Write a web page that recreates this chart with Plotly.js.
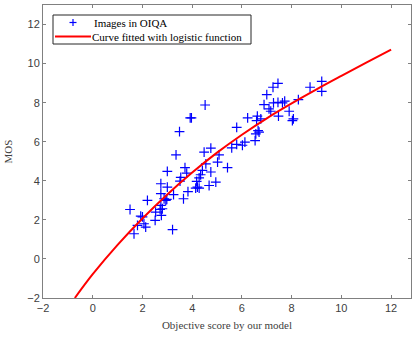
<!DOCTYPE html>
<html>
<head>
<meta charset="utf-8">
<script src="https://cdn.plot.ly/plotly-3.0.1.min.js"></script>
<style>html,body{margin:0;padding:0;background:#fff;}#chart{width:412px;height:341px;}</style>
</head>
<body>
<div id="chart"></div>
<script>
// Scatter points: objective score (x) vs MOS (y)
const scoreX = [4.52,3.92,3.97,3.49,6.23,5.79,3.35,4.48,4.75,5.08,5.59,5.79,6.02,6.12,5.02,5.42,4.55,4.41,4.34,4.28,4.75,3.71,3.78,3.00,3.54,3.51,4.18,4.21,4.14,4.28,4.95,4.68,3.83,3.65,2.74,3.00,2.74,3.25,2.87,2.98,2.94,2.20,2.74,2.80,2.71,2.53,2.76,1.50,1.93,2.00,2.51,1.80,2.06,2.13,1.66,3.21,9.21,9.21,8.74,7.45,7.25,7.00,6.89,7.27,7.45,7.63,7.72,7.09,7.16,8.27,7.90,8.07,8.03,7.47,6.62,6.59,6.76,6.65,6.56,6.69,6.53];
const mosY   = [7.88,7.22,7.22,6.52,7.22,6.74,5.33,5.47,5.67,5.33,5.69,5.86,5.82,5.98,4.96,4.67,4.87,4.53,4.31,4.15,4.45,4.67,4.39,4.48,4.18,3.98,3.97,3.68,3.63,3.63,3.93,3.76,3.45,3.08,3.85,3.68,3.34,3.29,3.08,3.05,3.00,3.00,2.74,2.57,2.53,2.40,2.23,2.53,2.19,2.15,1.97,1.72,1.80,1.63,1.29,1.50,9.09,8.58,8.79,8.99,8.79,8.41,7.90,7.99,8.02,7.99,8.08,7.68,7.56,8.16,7.56,7.17,7.08,7.31,7.31,7.08,7.17,6.57,6.40,6.49,6.06];
// Fitted curve
const curveX = [-0.72,0,1,2,3,4,5,6,7,8,9,10,11,12];
const curveY = [-2,-0.78,0.72,2.07,3.3,4.42,5.44,6.36,7.2,7.96,8.68,9.37,10.05,10.72];
const xTicks = [-2,0,2,4,6,8,10,12];
const yTicks = [-2,0,2,4,6,8,10,12];
const seriesNames = ['Images in OIQA', 'Curve fitted with logistic function'];

const traces = [
  {x: scoreX, y: mosY, mode: 'markers', type: 'scatter', name: seriesNames[0],
   marker: {symbol: 'cross-thin-open', size: 7, color: '#0000ff', line: {color: '#0000ff', width: 1.2}}},
  {x: curveX, y: curveY, mode: 'lines', type: 'scatter', name: seriesNames[1],
   line: {color: '#ff0000', width: 2, shape: 'spline'}}
];

// plot area geometry (pixels) for legend placement
const ML = 43, MR = 1, MT = 5, MB = 43, W = 412, H = 341;
const PW = W - ML - MR, PH = H - MT - MB;
const px = v => (v - ML) / PW;
const py = v => (H - MB - v) / PH;

const serif = 'Liberation Serif, Times New Roman, serif';
const shapes = [
  {type: 'rect', xref: 'paper', yref: 'paper', x0: px(53), x1: px(251), y0: py(44), y1: py(15),
   line: {color: '#262626', width: 1}, fillcolor: '#ffffff', layer: 'above'},
  // legend marker (+)
  {type: 'line', xref: 'paper', yref: 'paper', x0: px(69.5), x1: px(76.5), y0: py(22.5), y1: py(22.5),
   line: {color: '#0000ff', width: 1.2}, layer: 'above'},
  {type: 'line', xref: 'paper', yref: 'paper', x0: px(73), x1: px(73), y0: py(19), y1: py(26),
   line: {color: '#0000ff', width: 1.2}, layer: 'above'},
  // legend line sample
  {type: 'line', xref: 'paper', yref: 'paper', x0: px(55), x1: px(91), y0: py(36.5), y1: py(36.5),
   line: {color: '#ff0000', width: 2}, layer: 'above'}
];
const annotations = [
  {xref: 'paper', yref: 'paper', x: px(92), y: py(22.5), xanchor: 'left', yanchor: 'middle',
   text: seriesNames[0], showarrow: false, font: {family: serif, size: 11, color: '#000'}},
  {xref: 'paper', yref: 'paper', x: px(90), y: py(36.5), xanchor: 'left', yanchor: 'middle',
   text: seriesNames[1], showarrow: false, font: {family: serif, size: 11, color: '#000'}}
];

const axisCommon = {
  showgrid: false, zeroline: false, showline: true, linecolor: '#808080', linewidth: 1,
  mirror: 'ticks', ticks: 'inside', ticklen: 3, tickcolor: '#808080', tickwidth: 1,
  tickfont: {family: 'Liberation Sans, Arial, sans-serif', size: 11, color: '#404040'}
};

const layout = {
  width: W, height: H,
  margin: {l: ML, r: MR, t: MT, b: MB},
  paper_bgcolor: '#fff', plot_bgcolor: '#fff',
  showlegend: false,
  shapes: shapes, annotations: annotations,
  xaxis: Object.assign({}, axisCommon, {range: [-2, 12.8], tickvals: xTicks,
    title: {text: 'Objective score by our model', standoff: 8,
      font: {family: serif, size: 11, color: '#404040'}}}),
  yaxis: Object.assign({}, axisCommon, {range: [-2, 13], tickvals: yTicks,
    title: {text: 'MOS', standoff: 12,
      font: {family: serif, size: 11, color: '#404040'}}})
};

Plotly.newPlot('chart', traces, layout, {displayModeBar: false, staticPlot: true});
</script>
</body>
</html>
